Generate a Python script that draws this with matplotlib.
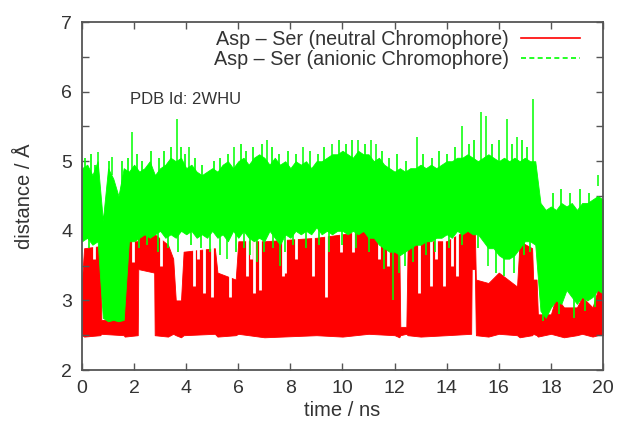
import numpy as np
import matplotlib
matplotlib.use("Agg")
import matplotlib.pyplot as plt
from matplotlib.lines import Line2D

plt.rcParams["font.family"] = ["Liberation Sans", "DejaVu Sans"]

RED, GREEN, FRAME, TXT = "#ff0000", "#00ff00", "#555555", "#333333"

# neutral chromophore: lower / upper envelope (ns, A)
red_t = [0.0, 0.08, 0.7, 0.74, 1.6, 1.64, 2.14, 2.16, 2.77, 2.79,
         3.3, 3.5, 3.6, 3.8, 3.9, 5.1, 5.2, 5.9, 6.0, 7.0,
         9.0, 10.0, 11.0, 12.0, 12.18, 12.22, 12.45, 12.5, 13.0, 14.0,
         14.94, 14.96, 15.08, 15.12, 15.6, 16.0, 16.7, 16.8, 17.28, 17.32,
         17.45, 17.5, 18.0, 18.2, 18.5, 19.0, 19.2, 19.6, 19.8, 20.0]
red_hi = [3.3, 3.75, 3.78, 2.72, 2.72, 3.85, 3.85, 3.95, 3.95, 3.95,
          3.8, 3.6, 3.0, 3.0, 3.7, 3.75, 3.4, 3.3, 3.85, 3.85,
          3.9, 3.95, 4.0, 3.8, 3.75, 2.62, 2.62, 3.75, 3.85, 3.85,
          4.05, 4.05, 4.0, 3.3, 3.25, 3.4, 3.2, 3.85, 3.75, 3.3,
          3.3, 2.8, 2.8, 3.05, 2.9, 2.9, 3.05, 2.9, 3.15, 3.1]
red_lo = [2.5, 2.48, 2.5, 2.52, 2.5, 2.48, 2.5, 3.45, 3.4, 2.5,
          2.48, 2.52, 2.5, 2.47, 2.5, 2.52, 2.48, 2.5, 2.52, 2.47,
          2.5, 2.48, 2.52, 2.5, 2.47, 2.5, 2.52, 2.5, 2.48, 2.5,
          2.52, 3.45, 3.45, 2.5, 2.48, 2.52, 2.5, 2.47, 2.5, 2.52,
          2.5, 2.48, 2.52, 2.5, 2.47, 2.5, 2.52, 2.48, 2.5, 2.5]
# short drops of the neutral trace (time, lowest reach of the gap)
red_gap_t = [0.45, 1.95, 3.05, 4.3, 4.45, 4.7, 5.0, 5.7, 6.35, 6.5, 6.6, 6.85, 7.7, 7.8,
             8.2, 8.85, 9.35, 9.95, 10.4, 11.4, 11.75, 12.95, 13.4, 13.6, 13.9, 14.2, 14.4]
red_gap_v = [3.6, 3.55, 3.5, 3.2, 3.6, 3.1, 3.05, 3.05, 3.35, 3.6, 3.1, 3.15, 3.35, 3.4,
             3.6, 3.35, 3.05, 3.7, 3.7, 3.6, 3.5, 3.1, 3.2, 3.6, 3.2, 3.5, 3.35]

# anionic chromophore, dense band sampled every 0.2 ns
green_t = np.linspace(0, 20, 101)
green_hi = [4.9, 4.95, 4.8, 5.0, 4.15, 4.9, 4.75, 4.5, 4.9, 4.85,
            4.95, 4.85, 4.9, 5.0, 4.8, 4.9, 4.95, 5.05,
            5.0, 5.05, 4.9, 4.95, 4.85, 4.8, 4.85, 4.9,
            4.85, 4.95, 5.0, 4.9, 5.0, 5.05, 4.95, 5.05,
            5.1, 5.05, 4.95, 5.05, 4.95, 5.0, 4.9, 5.0,
            4.95, 5.0, 4.9, 5.0, 5.0, 5.05, 5.1, 5.1,
            5.15, 5.1, 5.05, 5.15, 5.1, 5.1, 5.0, 5.05,
            4.95, 4.9, 4.85, 4.9, 4.85, 4.9, 4.9, 4.95,
            4.9, 4.95, 4.9, 4.95, 5.0, 5.0, 5.05, 5.05,
            5.1, 5.05, 5.0, 5.05, 5.1, 5.05, 5.0, 5.05,
            5.0, 5.05, 5.0, 5.05, 5.0, 5.0, 4.4, 4.3,
            4.35, 4.3, 4.4, 4.35, 4.4, 4.3, 4.4, 4.4,
            4.45, 4.5, 4.45]
green_lo = [3.85, 3.9, 3.8, 3.85, 2.75, 2.7, 2.72, 2.7, 2.72, 3.85,
            3.85, 3.9, 3.95, 3.9, 3.95, 4.0, 3.9, 3.95,
            3.9, 4.0, 3.95, 4.0, 3.9, 3.95, 3.9, 4.0,
            3.9, 3.95, 3.85, 4.0, 3.9, 4.0, 3.9, 3.85,
            3.9, 3.85, 4.0, 3.9, 3.8, 3.95, 3.9, 4.0,
            3.95, 4.0, 3.95, 4.05, 3.95, 4.0, 3.95, 4.0,
            4.0, 3.95, 4.0, 3.95, 4.0, 3.9, 3.9, 3.8,
            3.75, 3.7, 3.7, 3.65, 3.7, 3.75, 3.8, 3.8,
            3.85, 3.85, 3.9, 3.9, 3.95, 3.9, 4.0, 3.95,
            4.0, 3.95, 3.95, 3.85, 3.75, 3.75, 3.65, 3.6,
            3.6, 3.65, 3.75, 3.85, 3.85, 3.8, 2.85, 2.75,
            2.9, 3.0, 2.95, 3.15, 3.05, 2.95, 3.05, 3.0,
            3.05, 3.15, 3.1]

# fringe of short excursions above and below the band
green_up_t = [0.1, 0.35, 0.5, 1.05, 1.55, 1.75, 2.1, 2.3, 2.65, 2.95, 3.15, 3.4, 3.8, 3.95,
              4.35, 4.6, 5.05, 5.3, 5.6, 6.1, 6.3, 6.55, 6.9, 7.3, 7.55, 7.9, 8.2, 8.75,
              9.05, 9.3, 9.85, 10.15, 10.35, 10.85, 11.5, 11.8, 12.1, 12.45, 13.1, 13.45,
              13.7, 14.0, 14.3, 14.85, 15.05, 15.75, 16.0, 16.5, 16.9, 17.1,
              18.1, 18.4, 18.75, 19.1, 19.45]
green_up_v = [5.05, 5.1, 4.95, 5.0, 5.0, 5.05, 5.1, 5.0, 5.15, 5.05, 5.15, 5.2, 5.2, 5.1,
              5.05, 4.95, 5.0, 5.05, 5.1, 5.25, 5.15, 5.2, 5.25, 5.2, 5.1, 5.15, 5.1, 5.15,
              5.1, 5.2, 5.3, 5.25, 5.3, 5.25, 5.15, 5.05, 5.1, 5.0, 5.1, 5.05,
              5.15, 5.1, 5.2, 5.25, 5.3, 5.25, 5.3, 5.25, 5.3, 5.2,
              4.55, 4.6, 4.55, 4.6, 4.55]
green_down_t = [0.25, 2.2, 2.5, 2.9, 3.3, 3.7, 4.2, 4.55, 4.9, 5.3, 5.9, 6.2, 6.45, 7.0,
                7.35, 7.8, 8.1, 8.6, 9.1, 9.5, 10.0, 10.5, 11.0, 11.6, 12.4, 12.7, 13.2,
                13.55, 14.1, 14.6, 15.2, 15.9, 16.2, 16.6, 16.95, 17.2,
                17.7, 18.3, 18.9, 19.3, 19.7]
green_down_v = [3.75, 3.75, 3.8, 3.7, 3.75, 3.7, 3.8, 3.75, 3.7, 3.65, 3.7, 3.75, 3.65, 3.7,
                3.75, 3.7, 3.8, 3.75, 3.8, 3.7, 3.8, 3.75, 3.7, 3.45, 3.5, 3.55, 3.65,
                3.7, 3.75, 3.8, 3.75, 3.4, 3.35, 3.4, 3.65, 3.7,
                2.7, 2.8, 2.75, 2.85, 2.9]
# single tall excursions of the anionic trace
green_peak_t = [0.6, 1.15, 1.9, 3.65, 4.1, 5.85, 7.1, 8.5, 9.6, 10.6, 11.1, 11.3,
                12.85, 14.6, 15.3, 15.5, 16.3, 16.7, 17.3, 19.8]
green_peak_v = [5.13, 5.06, 5.42, 5.6, 5.2, 5.2, 5.3, 5.2, 5.25, 5.3, 5.3, 5.25,
                5.35, 5.5, 5.7, 5.65, 5.6, 5.35, 5.9, 4.65]
green_dip_t = [5.55, 6.7, 7.6, 11.95, 12.15, 15.6]
green_dip_v = [3.6, 3.55, 3.5, 3.0, 3.4, 3.5]

fig = plt.figure(figsize=(6.18, 4.30), dpi=100)
ax = fig.add_axes([0.1327, 0.1395, 0.843, 0.8093])

ax.fill_between(red_t, red_lo, red_hi, color=RED, lw=0.6, ec=RED, zorder=1)
ax.vlines(red_gap_t, red_gap_v, 4.1, color="white", lw=2, zorder=1.5)
ax.fill_between(green_t, green_lo, green_hi, color=GREEN, lw=0.6, ec=GREEN, zorder=2)
ax.vlines(green_up_t, np.subtract(green_up_v, 0.4), green_up_v, color=GREEN, lw=1.2, zorder=2)
ax.vlines(green_down_t, green_down_v, np.add(green_down_v, 0.4), color=GREEN, lw=1.2, zorder=2)
ax.vlines(green_peak_t, 4.8, green_peak_v, color=GREEN, lw=1.1, zorder=2)
ax.vlines(green_dip_t, green_dip_v, 3.9, color=GREEN, lw=1.1, zorder=2)

ax.set_xlim(0, 20)
ax.set_ylim(2, 7)
ax.set_xticks(range(0, 21, 2))
ax.set_yticks(range(2, 8))
ax.set_yticks([2.5, 3.5, 4.5, 5.5, 6.5], minor=True)
ax.tick_params(which="both", direction="in", top=True, right=True, length=5,
               width=1, color=FRAME, labelsize=14, labelcolor=TXT, pad=7)
for s in ax.spines.values():
    s.set_color(FRAME)
    s.set_linewidth(1.3)
    s.set_zorder(5)

ax.set_xlabel("time / ns", fontsize=14.5, color=TXT, labelpad=3)
ax.set_ylabel("distance / Å", fontsize=14.5, color=TXT, labelpad=20)
ax.text(1.84, 5.88, "PDB Id: 2WHU", fontsize=12, color=TXT, va="center")

handles = [Line2D([], [], color=RED, lw=1.2),
           Line2D([], [], color=GREEN, lw=1.2, ls=(0, (3, 2)))]
labels = ["Asp – Ser (neutral Chromophore)", "Asp – Ser (anionic Chromophore)"]
ax.legend(handles, labels, loc="upper right", bbox_to_anchor=(0.956, 0.977),
          frameon=False, markerfirst=False, fontsize=14.2, handlelength=3.0,
          handletextpad=0.6, labelspacing=0.05, borderaxespad=0, borderpad=0,
          labelcolor=TXT)

fig.savefig("out.png", dpi=100)
